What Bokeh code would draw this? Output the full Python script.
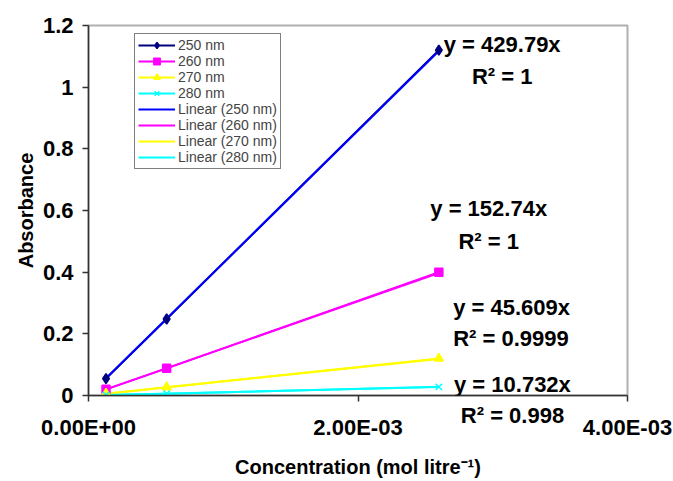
from bokeh.plotting import figure
from bokeh.models import Range1d, FixedTicker, Label, Legend, LegendItem
from bokeh.embed import file_html
from bokeh.resources import INLINE

# ---- data ----
conc = [1.3e-4, 5.8e-4, 2.6e-3]
abs_250 = [0.055, 0.248, 1.12]
abs_260 = [0.020, 0.088, 0.400]
abs_270 = [0.006, 0.027, 0.120]
abs_280 = [0.0015, 0.006, 0.028]
series_names = ["250 nm", "260 nm", "270 nm", "280 nm"]
slope_texts = ["429.79", "152.74", "45.609", "10.732"]
slopes = [429.79, 152.74, 45.609, 10.732]
r2_values = ["1", "1", "0.9999", "0.998"]
x_ticks = [0.0, 2e-3, 4e-3]
x_tick_labels = ["0.00E+00", "2.00E-03", "4.00E-03"]
y_ticks = [0.0, 0.2, 0.4, 0.6, 0.8, 1.0, 1.2]
y_tick_labels = ["0", "0.2", "0.4", "0.6", "0.8", "1", "1.2"]

# ---- styles ----
FONT = "Liberation Sans"
data_colors = ["#000080", "#FF00FF", "#FFFF00", "#00FFFF"]
trend_colors = ["#0000FF", "#FF00FF", "#FFFF00", "#00FFFF"]
markers = ["diamond", "square", "triangle", "x"]
marker_sizes = [10, 8, 9, 9]
# label anchor positions (data coords) for equation / R^2 text
eq_pos = [(3.07e-3, 1.139), (2.97e-3, 0.606), (3.14e-3, 0.284), (3.146e-3, 0.035)]
r2_pos = [(3.07e-3, 1.035), (2.97e-3, 0.50), (3.135e-3, 0.184)]
# last R^2 text sits below the axis: canvas position (from top-left)
r2_last_canvas = (512, 415)

p = figure(width=673, height=481, output_backend="svg", toolbar_location=None,
           x_range=Range1d(0, 4e-3), y_range=Range1d(0, 1.2),
           min_border_left=88, min_border_right=46, min_border_top=23,
           min_border_bottom=86, x_axis_label="Concentration (mol litre\u207b\u00b9)",
           y_axis_label="Absorbance")
p.background_fill_color = "white"
p.border_fill_color = "white"
p.outline_line_color = "#b0b0b0"
p.outline_line_width = 2
p.xgrid.visible = False
p.ygrid.visible = False

for ax in (p.xaxis[0], p.yaxis[0]):
    ax.axis_line_color = "#333333"
    ax.axis_line_width = 1.5
    ax.major_tick_line_color = "#333333"
    ax.major_tick_line_width = 1.5
    ax.major_tick_out = 6
    ax.major_tick_in = 0
    ax.minor_tick_out = 0
    ax.minor_tick_in = 0
    ax.major_label_text_font = FONT
    ax.major_label_text_font_style = "bold"
    ax.major_label_text_font_size = "22px"
    ax.major_label_text_color = "black"
    ax.axis_label_text_font = FONT
    ax.axis_label_text_font_style = "bold"
    ax.axis_label_text_font_size = "20px"
    ax.axis_label_text_color = "black"

p.xaxis[0].ticker = FixedTicker(ticks=x_ticks)
p.xaxis[0].major_label_overrides = dict(zip(x_ticks, x_tick_labels))
p.xaxis[0].major_label_standoff = 13
p.xaxis[0].axis_label_standoff = 13
p.yaxis[0].ticker = FixedTicker(ticks=y_ticks)
p.yaxis[0].major_label_overrides = dict(zip(y_ticks, y_tick_labels))
p.yaxis[0].major_label_standoff = 9
p.yaxis[0].axis_label_standoff = 3

series = [abs_250, abs_260, abs_270, abs_280]
data_lines, trend_lines, marks = [], [], []
for ys, c in zip(series, data_colors):
    data_lines.append(p.line(conc, ys, line_color=c, line_width=2))
xs_fit = [min(conc), max(conc)]
for k, c in zip(slopes, trend_colors):
    trend_lines.append(p.line(xs_fit, [k * x for x in xs_fit], line_color=c, line_width=2))
for ys, c, m, s in zip(series, data_colors, markers, marker_sizes):
    marks.append(p.scatter(conc, ys, marker=m, size=s, fill_color=c, line_color=c,
                           line_width=1.5))

items = []
for i, name in enumerate(series_names):
    items.append(LegendItem(label=name, renderers=[data_lines[i], marks[i]]))
for i, name in enumerate(series_names):
    items.append(LegendItem(label="Linear (%s)" % name, renderers=[trend_lines[i]]))
legend = Legend(items=items, location=(46, 226), orientation="vertical",
                label_text_font=FONT, label_text_font_size="14px",
                label_height=16, glyph_height=16, glyph_width=37, spacing=0,
                padding=3, margin=0, label_standoff=3,
                border_line_color="black", border_line_width=1,
                background_fill_color="white", background_fill_alpha=1)
p.add_layout(legend, "center")

text_style = dict(text_font=FONT, text_font_style="bold", text_font_size="22px",
                  text_align="center", text_baseline="middle", text_color="black")
for st, (ex, ey) in zip(slope_texts, eq_pos):
    p.add_layout(Label(x=ex, y=ey, text="y = %sx" % st, **text_style))
for r2, (rx, ry) in zip(r2_values[:3], r2_pos):
    p.add_layout(Label(x=rx, y=ry, text="R\u00b2 = %s" % r2, **text_style))
# placed in a side panel so that it is not clipped to the frame
p.add_layout(Label(x=r2_last_canvas[0], y=r2_last_canvas[1], x_units="canvas",
                   y_units="canvas", text="R\u00b2 = %s" % r2_values[3],
                   text_line_height=0.8, **text_style), "above")

open("out.html", "w").write(file_html(p, INLINE))
